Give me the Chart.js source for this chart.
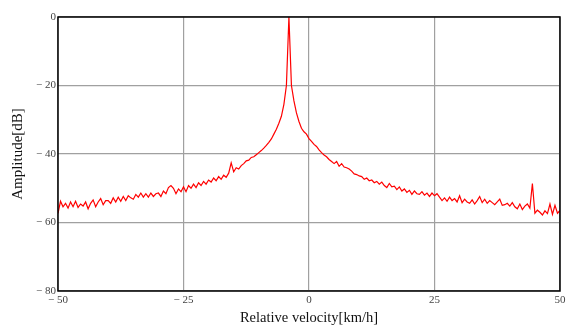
<!DOCTYPE html>
<html>
<head>
<meta charset="utf-8">
<script src="https://cdn.jsdelivr.net/npm/chart.js@4.4.1/dist/chart.umd.min.js"></script>
<style>
  html, body { margin: 0; padding: 0; background: #fff; }
</style>
</head>
<body>
<canvas id="spectrum" width="570" height="325"></canvas>
<script>
// Relative velocity samples (km/h) and measured amplitude (dB)
const velocity = [
  -50, -49.5, -49, -48.5, -48, -47.5, -47, -46.5, -46, -45.5,
  -45, -44.5, -44, -43.5, -43, -42.5, -42, -41.5, -41, -40.5,
  -40, -39.5, -39, -38.5, -38, -37.5, -37, -36.5, -36, -35.5,
  -35, -34.5, -34, -33.5, -33, -32.5, -32, -31.5, -31, -30.5,
  -30, -29.5, -29, -28.5, -28, -27.5, -27, -26.5, -26, -25.5,
  -25, -24.5, -24, -23.5, -23, -22.5, -22, -21.5, -21, -20.5,
  -20, -19.5, -19, -18.5, -18, -17.5, -17, -16.5, -16, -15.5,
  -15, -14.5, -14, -13.5, -13, -12.5, -12, -11.5, -11, -10.5,
  -10, -9.5, -9, -8.5, -8, -7.5, -7, -6.5, -6, -5.5,
  -5, -4.5, -4, -3.5, -3, -2.5, -2, -1.5, -1, -0.5,
  0, 0.5, 1, 1.5, 2, 2.5, 3, 3.5, 4, 4.5,
  5, 5.5, 6, 6.5, 7, 7.5, 8, 8.5, 9, 9.5,
  10, 10.5, 11, 11.5, 12, 12.5, 13, 13.5, 14, 14.5,
  15, 15.5, 16, 16.5, 17, 17.5, 18, 18.5, 19, 19.5,
  20, 20.5, 21, 21.5, 22, 22.5, 23, 23.5, 24, 24.5,
  25, 25.5, 26, 26.5, 27, 27.5, 28, 28.5, 29, 29.5,
  30, 30.5, 31, 31.5, 32, 32.5, 33, 33.5, 34, 34.5,
  35, 35.5, 36, 36.5, 37, 37.5, 38, 38.5, 39, 39.5,
  40, 40.5, 41, 41.5, 42, 42.5, 43, 43.5, 44, 44.5,
  45, 45.5, 46, 46.5, 47, 47.5, 48, 48.5, 49, 49.5,
  50
];
const amplitude = [
  -57.3, -53.8, -55.4, -54.4, -55.8, -54.0, -55.4, -53.8, -55.6, -54.6,
  -55.2, -54.0, -56.0, -54.4, -53.4, -55.4, -54.0, -53.0, -54.8, -53.6,
  -53.6, -54.4, -52.8, -54.0, -52.6, -53.8, -52.4, -53.6, -52.2, -52.8,
  -53.2, -51.8, -52.6, -51.4, -52.6, -51.6, -52.6, -51.4, -52.4, -51.6,
  -51.4, -52.4, -50.8, -51.6, -49.8, -49.2, -50.0, -51.6, -50.2, -51.0,
  -49.6, -51.0, -49.2, -50.0, -48.8, -49.8, -48.4, -49.2, -48.0, -48.8,
  -47.6, -48.2, -47.0, -47.8, -46.6, -47.4, -46.2, -46.8, -45.6, -42.6,
  -45.2, -44.0, -44.4, -43.4, -42.8, -42.0, -41.8, -41.0, -40.8, -40.2,
  -39.6, -39.0, -38.3, -37.5, -36.6, -35.6, -34.2, -32.8, -31.0, -29.0,
  -25.5, -20.0, 0.0, -20.0, -24.5, -28.0, -30.5, -32.5, -33.5, -34.2,
  -35.5, -36.3, -37.2, -37.8, -38.8, -39.6, -40.3, -40.8, -41.6, -42.2,
  -42.8, -42.2, -43.6, -42.8, -43.8, -44.0, -44.4, -45.0, -45.8, -46.0,
  -46.4, -46.6, -47.4, -47.0, -47.8, -47.6, -48.4, -48.0, -48.8, -48.2,
  -49.2, -49.8, -48.6, -49.6, -49.4, -50.4, -49.6, -50.8, -50.2, -51.2,
  -50.6, -51.8, -50.8, -51.6, -51.8, -51.0, -52.0, -51.4, -52.4, -51.4,
  -52.2, -51.6, -52.6, -53.6, -52.8, -53.8, -52.6, -53.6, -53.0, -54.0,
  -52.2, -54.2, -53.2, -54.0, -54.4, -53.4, -54.6, -53.6, -52.4, -54.2,
  -53.2, -54.4, -53.6, -54.2, -54.8, -54.0, -53.2, -55.0, -54.8, -54.4,
  -55.2, -54.2, -55.4, -56.0, -54.6, -56.2, -55.2, -54.6, -55.8, -48.6,
  -57.3, -56.4, -57.0, -57.8, -56.6, -57.4, -54.6, -57.6, -55.0, -57.3,
  -56.5
];
const xTicks = [-50, -25, 0, 25, 50];
const yTicks = [-80, -60, -40, -20, 0];

const serif = "'Liberation Serif', 'DejaVu Serif', serif";
const fmt = (v) => (v < 0 ? "\u2212 " + Math.abs(v) : String(v));

// black box round the plot area
const frame = {
  id: "frame",
  afterDatasetsDraw(chart) {
    const { ctx, chartArea: a } = chart;
    ctx.save();
    ctx.strokeStyle = "#000";
    ctx.lineWidth = 1.5;
    ctx.strokeRect(a.left, a.top, a.right - a.left, a.bottom - a.top);
    ctx.restore();
  },
};

const ctx = document.getElementById("spectrum").getContext("2d");
new Chart(ctx, {
  type: "line",
  data: {
    datasets: [
      {
        data: velocity.map((v, i) => ({ x: v, y: amplitude[i] })),
        borderColor: "#ff0000",
        borderWidth: 1.2,
        pointRadius: 0,
        tension: 0,
        fill: false,
      },
    ],
  },
  options: {
    responsive: false,
    animation: false,
    devicePixelRatio: 1,
    layout: { padding: { top: 17, right: 10, left: 0, bottom: 0 } },
    plugins: { legend: { display: false }, tooltip: { enabled: false } },
    scales: {
      x: {
        type: "linear",
        min: -50,
        max: 50,
        afterBuildTicks: (s) => { s.ticks = xTicks.map((v) => ({ value: v })); },
        afterFit: (s) => { s.height = 34; },
        grid: { color: "#a0a0a0", lineWidth: 1.2, drawTicks: false },
        border: { display: false },
        ticks: {
          padding: 3,
          maxRotation: 0,
          color: "#444",
          font: { family: serif, size: 11 },
          callback: fmt,
        },
        title: {
          display: true,
          text: "Relative velocity[km/h]",
          color: "#111",
          font: { family: serif, size: 14.5, lineHeight: 1 },
          padding: 0,
        },
      },
      y: {
        type: "linear",
        min: -80,
        max: 0,
        afterBuildTicks: (s) => { s.ticks = yTicks.map((v) => ({ value: v })); },
        afterFit: (s) => { s.width = 58; },
        grid: { color: "#a0a0a0", lineWidth: 1.2, drawTicks: false },
        border: { display: false },
        ticks: {
          padding: 2,
          color: "#444",
          font: { family: serif, size: 11 },
          callback: fmt,
        },
        title: {
          display: true,
          text: "Amplitude[dB]",
          color: "#111",
          font: { family: serif, size: 15, lineHeight: 1 },
          padding: { top: 10.5, bottom: 0 },
        },
      },
    },
  },
  plugins: [frame],
});
</script>
</body>
</html>
